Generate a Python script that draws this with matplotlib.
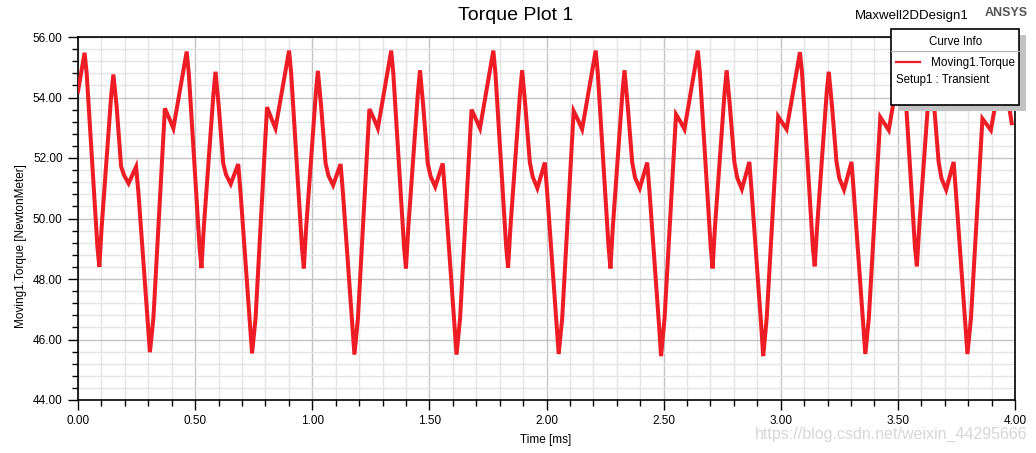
import matplotlib
matplotlib.use("Agg")
import matplotlib.pyplot as plt
from matplotlib.patches import Rectangle
from matplotlib.lines import Line2D
from matplotlib.ticker import MultipleLocator, FormatStrFormatter

plt.rcParams['font.family'] = ['Liberation Sans', 'DejaVu Sans']

# ---------------- data (time in ms, torque in N*m) ----------------
time_ms = [
    0.000,
    0.028, 0.037, 0.083, 0.091, 0.101, 0.142, 0.151, 0.165, 0.184, 0.196, 0.216, 0.248, 0.258, 0.300, 0.307, 0.322, 0.371, 0.390, 0.407,
    0.464, 0.473, 0.519, 0.527, 0.537, 0.578, 0.587, 0.601, 0.620, 0.632, 0.652, 0.684, 0.694, 0.736, 0.743, 0.758, 0.807, 0.826, 0.843,
    0.901, 0.910, 0.956, 0.964, 0.974, 1.015, 1.024, 1.038, 1.057, 1.069, 1.089, 1.121, 1.131, 1.173, 1.180, 1.195, 1.244, 1.263, 1.280,
    1.337, 1.346, 1.392, 1.400, 1.410, 1.451, 1.460, 1.474, 1.493, 1.505, 1.525, 1.557, 1.567, 1.609, 1.616, 1.631, 1.680, 1.699, 1.716,
    1.773, 1.782, 1.828, 1.836, 1.846, 1.887, 1.896, 1.910, 1.929, 1.941, 1.961, 1.993, 2.003, 2.045, 2.052, 2.067, 2.116, 2.135, 2.152,
    2.210, 2.219, 2.265, 2.273, 2.283, 2.324, 2.333, 2.347, 2.366, 2.378, 2.398, 2.430, 2.440, 2.482, 2.489, 2.504, 2.553, 2.572, 2.589,
    2.646, 2.655, 2.701, 2.709, 2.719, 2.760, 2.769, 2.783, 2.802, 2.814, 2.834, 2.866, 2.876, 2.918, 2.925, 2.940, 2.989, 3.008, 3.025,
    3.082, 3.091, 3.137, 3.145, 3.155, 3.196, 3.205, 3.219, 3.238, 3.250, 3.270, 3.302, 3.312, 3.354, 3.361, 3.376, 3.425, 3.444, 3.461,
    3.518, 3.527, 3.573, 3.581, 3.591, 3.632, 3.641, 3.655, 3.674, 3.686, 3.706, 3.738, 3.748, 3.790, 3.797, 3.812, 3.861, 3.880, 3.897,
    3.955, 3.962, 3.975, 3.986,
]

torque_nm = [
    54.20,
    55.48, 54.80, 49.05, 48.40, 49.72, 54.10, 54.76, 53.70, 51.72, 51.44, 51.16, 51.71, 50.85, 46.30, 45.58, 46.72, 53.64, 53.30, 52.98,
    55.52, 54.80, 49.05, 48.36, 49.70, 54.10, 54.85, 53.70, 51.82, 51.45, 51.14, 51.80, 50.85, 46.30, 45.54, 46.70, 53.68, 53.30, 52.98,
    55.55, 54.80, 49.05, 48.35, 49.70, 54.10, 54.88, 53.70, 51.82, 51.42, 51.10, 51.80, 50.85, 46.30, 45.50, 46.70, 53.62, 53.30, 52.98,
    55.55, 54.80, 49.05, 48.35, 49.70, 54.15, 54.90, 53.70, 51.82, 51.40, 51.05, 51.82, 50.85, 46.30, 45.50, 46.70, 53.60, 53.28, 52.98,
    55.55, 54.80, 49.05, 48.38, 49.70, 54.15, 54.90, 53.70, 51.85, 51.38, 51.00, 51.85, 50.85, 46.30, 45.52, 46.70, 53.55, 53.25, 52.95,
    55.55, 54.80, 49.05, 48.35, 49.70, 54.15, 54.90, 53.70, 51.85, 51.35, 51.00, 51.85, 50.85, 46.30, 45.45, 46.70, 53.44, 53.20, 52.95,
    55.55, 54.80, 49.05, 48.35, 49.70, 54.15, 54.90, 53.70, 51.87, 51.35, 50.97, 51.87, 50.85, 46.30, 45.45, 46.70, 53.37, 53.15, 52.95,
    55.50, 54.80, 49.05, 48.42, 49.70, 54.15, 54.85, 53.70, 51.87, 51.33, 50.95, 51.87, 50.85, 46.30, 45.52, 46.70, 53.35, 53.12, 52.92,
    55.50, 54.80, 49.05, 48.42, 49.70, 54.15, 54.85, 53.70, 51.87, 51.33, 50.95, 51.87, 50.85, 46.30, 45.52, 46.70, 53.30, 53.10, 52.92,
    55.50, 54.80, 53.70, 53.15,
]

x_major_ticks = [0.0, 0.5, 1.0, 1.5, 2.0, 2.5, 3.0, 3.5, 4.0]
y_major_ticks = [44.0, 46.0, 48.0, 50.0, 52.0, 54.0, 56.0]

# ---------------- figure ----------------
W, H = 1036, 453
fig = plt.figure(figsize=(W / 100, H / 100), dpi=100)
fig.patch.set_facecolor('white')

def fx(px):
    return px / W

def fy(py):
    return 1 - py / H

ax_l, ax_r, ax_t, ax_b = 78, 1015, 37, 400
ax = fig.add_axes([fx(ax_l), fy(ax_b), fx(ax_r) - fx(ax_l), fy(ax_t) - fy(ax_b)])

ax.plot(time_ms, torque_nm, color='#ee1d25', linewidth=2.9, solid_joinstyle='miter', zorder=3)

ax.set_xlim(0, 4)
ax.set_ylim(44, 56)
ax.set_xticks(x_major_ticks)
ax.set_yticks(y_major_ticks)
ax.xaxis.set_minor_locator(MultipleLocator(0.1))
ax.yaxis.set_minor_locator(MultipleLocator(0.4))
ax.xaxis.set_major_formatter(FormatStrFormatter('%.2f'))
ax.yaxis.set_major_formatter(FormatStrFormatter('%.2f'))

ax.grid(which='minor', color='#e4e4e4', linewidth=1.0, zorder=0)
ax.grid(which='major', color='#c4c4c4', linewidth=1.0, zorder=0)
ax.set_axisbelow(True)

ax.tick_params(which='major', direction='out', length=7, width=1, labelsize=8.5, pad=4, colors='black')
ax.tick_params(which='minor', direction='out', length=4, width=1)
for sp in ax.spines.values():
    sp.set_color('black')
    sp.set_linewidth(1.2)

# axis labels
fig.text(fx(546), fy(440), 'Time [ms]', ha='center', va='center', fontsize=8.5)
fig.text(fx(21), fy(246), 'Moving1.Torque [NewtonMeter]', ha='center', va='center',
         rotation=90, fontsize=8.5)

# titles
fig.text(fx(516), fy(16), 'Torque Plot 1', ha='center', va='center', fontsize=14)
fig.text(fx(912), fy(16), 'Maxwell2DDesign1', ha='center', va='center', fontsize=9.5)
fig.text(fx(1006), fy(13), 'ANSYS', ha='center', va='center', fontsize=9,
         fontweight='bold', color='#555555')

# legend box ("Curve Info") with shadow
lx0, lx1, ly0, ly1 = 891, 1019, 29, 105
shadow = Rectangle((fx(lx0 + 7), fy(ly1 + 6)), fx(lx1) - fx(lx0), fy(ly0) - fy(ly1),
                   transform=fig.transFigure, facecolor='#c2c2c2', edgecolor='none', zorder=10)
box = Rectangle((fx(lx0), fy(ly1)), fx(lx1) - fx(lx0), fy(ly0) - fy(ly1),
                transform=fig.transFigure, facecolor='white', edgecolor='black',
                linewidth=1.2, zorder=11)
fig.add_artist(shadow)
fig.add_artist(box)
fig.add_artist(Line2D([fx(lx0), fx(lx1)], [fy(51), fy(51)], transform=fig.transFigure,
                      color='#b0b0b0', linewidth=0.8, zorder=12))
fig.add_artist(Line2D([fx(896), fx(920)], [fy(62), fy(62)], transform=fig.transFigure,
                      color='#ee1d25', linewidth=1.6, zorder=12))
fig.text(fx(956), fy(42), 'Curve Info', ha='center', va='center', fontsize=8.3, zorder=13)
fig.text(fx(931), fy(63), 'Moving1.Torque', ha='left', va='center', fontsize=8.5, zorder=13)
fig.text(fx(896), fy(80), 'Setup1 : Transient', ha='left', va='center', fontsize=8.3, zorder=13)

# watermark
fig.text(fx(1028), fy(434), 'https://blog.csdn.net/weixin_44295666', ha='right', va='center',
         fontsize=11.5, color='#d6d6d6', zorder=13)

fig.savefig('out.png', dpi=100, facecolor='white')
